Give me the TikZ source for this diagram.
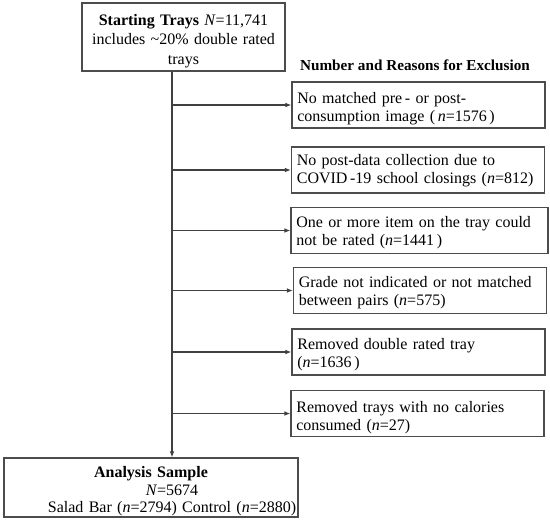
\documentclass[tikz,border=0pt]{standalone}
\usepackage{fontspec}
\setmainfont{Liberation Serif}
\usetikzlibrary{arrows.meta}

\begin{document}
\begin{tikzpicture}[%
    x=0.75pt,y=-0.75pt,
    font=\fontsize{12}{13.5}\selectfont,
    block/.style={
      rectangle,
      draw=black!70,
      line width=0.9pt,
      align=center,
      inner xsep=4pt,
      inner ysep=0pt,
      execute at begin node={\rule{0pt}{#1}}
    },
    block/.default=14pt,
    exclbox/.style={
      rectangle,
      draw=black!70,
      line width=0.9pt,
      text width=181.75pt,
      minimum height=34.5pt,
      align=left,
      inner xsep=4pt,
      inner ysep=0pt,
      execute at begin node={\rule{0pt}{#1}}
    },
    exclbox/.default=12pt,
    line/.style={
      draw=black!75,
      line width=0.8pt,
      -{Latex[length=4.5pt,width=3.5pt]}
    }
  ]
    \useasboundingbox (0,0) rectangle (550,526);
    \node[block=14.4pt, text width=144.25pt, minimum height=51pt,
          font=\fontsize{12}{14.5}\selectfont] (start) at (183.5,37)
      {\textbf{Starting Trays} \textit{N}=11,741\\includes \textasciitilde20\% double rated\\trays};
    \node[font=\fontsize{11.4}{14}\bfseries] (title) at (415,65) {Number and Reasons for Exclusion};
    \node[exclbox=13.6pt] (ex1) at (418.5,105) {No matched pre\,- or post-\\consumption image (\,\textit{n}=1576\,)};
    \node[exclbox=8.6pt] (ex2) at (418,170) {No post-data collection due to\\COVID\,-19 school closings (\textit{n}=812)};
    \node[exclbox=11pt, text width=184.75pt] (ex3) at (419.5,230.5) {One or more item on the tray could\\not be rated (\textit{n}=1441\,)};
    \node[exclbox=11.8pt] (ex4) at (420,290.5) {Grade not indicated or not matched\\between pairs (\textit{n}=575)};
    \node[exclbox=11.8pt] (ex5) at (418.5,352) {Removed double rated tray\\(\textit{n}=1636\,)};
    \node[exclbox=14pt] (ex6) at (417.5,413.5) {Removed trays with no calories\\consumed (\textit{n}=27)};
    \node[block=13.95pt, text width=220.5pt, inner xsep=0pt, minimum height=44.25pt,
          font=\fontsize{12}{13.1}\selectfont] (sample) at (151,487.5)
      {\textbf{Analysis Sample}\\\hspace*{31.5pt}\textit{N}=5674\\\hspace*{31.5pt}Salad Bar (\textit{n}=2794) Control (\textit{n}=2880)};
    % trunk
    \coordinate (trunk) at (172,0);
    \draw[line] (start.south -| trunk) -- (sample.north -| trunk);
    \foreach \ex in {ex1,ex2,ex3,ex4,ex5,ex6}
      \draw[line] (\ex.west -| trunk) -- (\ex.west);
  \end{tikzpicture}
\end{document}
